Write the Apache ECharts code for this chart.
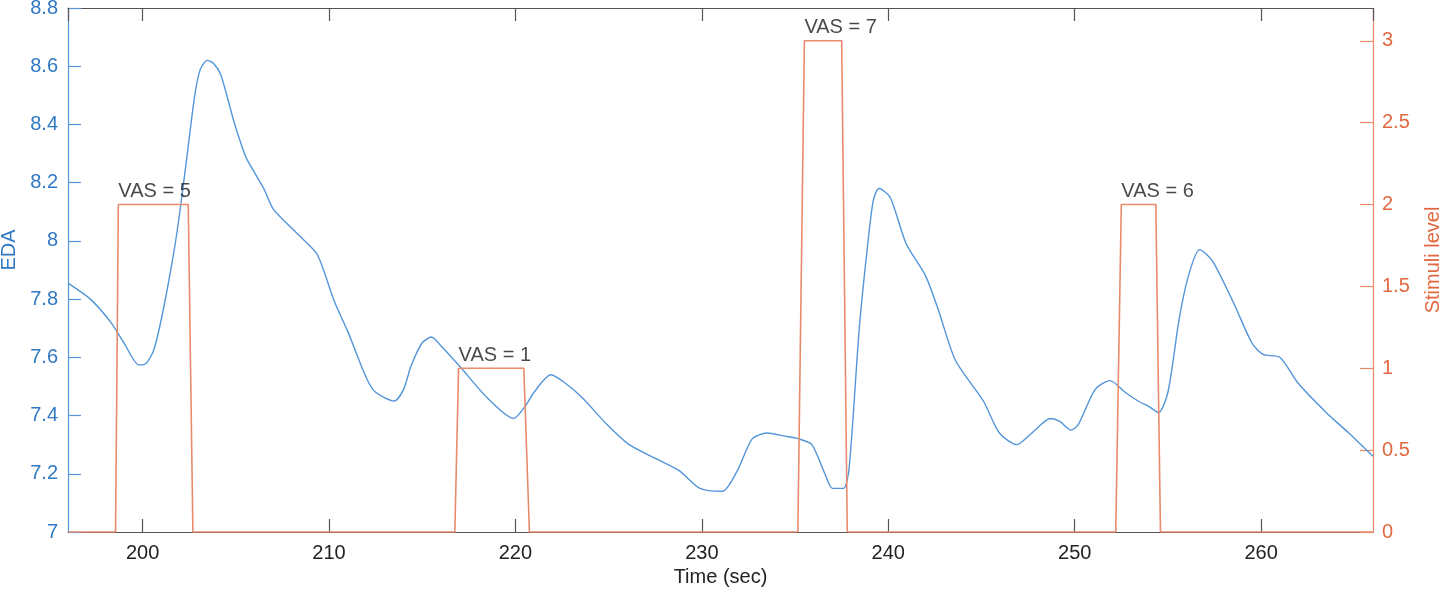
<!DOCTYPE html>
<html>
<head>
<meta charset="utf-8">
<script src="https://cdn.jsdelivr.net/npm/echarts@6/dist/echarts.min.js"></script>
<style>
html,body{margin:0;padding:0;background:#fff;}
#chart{width:1441px;height:595px;}
</style>
</head>
<body>
<div id="chart"></div>
<script>
// EDA signal (time in sec, EDA value)
const edaTime = [196.0,197.2,198.3,199.0,199.8,200.2,200.6,201.1,201.7,202.0,202.4,202.8,203.1,203.47,203.8,204.2,204.9,205.3,205.6,206.5,207.0,207.9,208.7,209.4,210.3,211.0,212.0,212.5,213.5,214.0,214.4,215.0,215.5,216.0,217.0,218.5,219.9,220.5,221.0,221.9,222.7,223.6,224.9,226.1,227.6,228.8,229.9,231.1,231.9,232.7,233.5,234.4,235.2,235.9,236.6,237.0,237.6,237.9,238.45,238.9,239.2,239.5,240.1,240.96,242.0,242.7,243.6,245.1,245.96,246.9,247.7,248.7,249.2,249.8,250.2,251.1,251.9,252.7,253.4,254.0,254.5,255.0,255.6,256.1,256.7,257.4,258.5,259.5,260.1,261.0,262.0,263.5,264.7,266.0];
const edaValue = [7.855,7.80,7.72,7.65,7.574,7.58,7.625,7.76,7.97,8.10,8.30,8.50,8.59,8.62,8.61,8.57,8.41,8.33,8.28,8.18,8.11,8.05,8.00,7.95,7.79,7.69,7.53,7.48,7.45,7.49,7.57,7.65,7.67,7.64,7.57,7.46,7.39,7.43,7.48,7.54,7.51,7.46,7.37,7.30,7.25,7.21,7.15,7.14,7.21,7.32,7.34,7.33,7.32,7.30,7.20,7.15,7.15,7.22,7.705,7.99,8.14,8.18,8.15,7.99,7.88,7.76,7.59,7.45,7.34,7.30,7.34,7.39,7.38,7.35,7.37,7.49,7.52,7.48,7.45,7.43,7.41,7.48,7.73,7.88,7.97,7.93,7.79,7.65,7.61,7.60,7.51,7.41,7.34,7.26];

// Stimulus level trace
const stimTime  = [196,198.55,198.7,202.45,202.7,216.75,216.95,220.45,220.75,235.15,235.5,237.5,237.8,252.2,252.5,254.35,254.6,266];
const stimLevel = [0,0,2,2,0,0,1,1,0,0,3,3,0,0,2,2,0,0];

// VAS annotations
const vasTime  = [198.7,216.95,235.5,252.5];
const vasLevel = [2,1,3,2];
const vasText  = ['VAS = 5','VAS = 1','VAS = 7','VAS = 6'];

// Axis ranges / ticks
const xMin = 196, xMax = 266;
const edaMin = 7, edaMax = 8.8, edaStep = 0.2;
const stimMin = 0, stimMax = 3.2, stimStep = 0.5;

const blueLabel = '#2f78c4', blueLine = '#5395d9';
const orangeLabel = '#e2683f', orangeLine = '#ea8a6c';
const FONT = 'Liberation Sans, Arial, Helvetica, sans-serif';
const FS = 20;

const chart = echarts.init(document.getElementById('chart'));
chart.setOption({
  animation: false,
  backgroundColor: '#ffffff',
  grid: {left: 68, right: 68, top: 8, bottom: 63, containLabel: false, outerBoundsMode: 'none'},
  xAxis: [{
    type: 'value', min: xMin, max: xMax, splitNumber: 7,
    name: 'Time (sec)', nameLocation: 'middle', nameGap: 33,
    nameTextStyle: {color: '#222', fontSize: FS, fontFamily: FONT},
    axisLine: {show: true, onZero: false, lineStyle: {color: '#555', width: 1.2}},
    axisTick: {show: true, inside: true, length: 13, lineStyle: {color: '#555', width: 1.2}},
    axisLabel: {color: '#222', fontSize: FS, fontFamily: FONT, margin: 11, showMinLabel: false, showMaxLabel: false},
    splitLine: {show: false}
  }, {
    type: 'value', min: xMin, max: xMax, splitNumber: 7, position: 'top',
    axisLine: {show: true, onZero: false, lineStyle: {color: '#555', width: 1.2}},
    axisTick: {show: true, inside: true, length: 13, lineStyle: {color: '#555', width: 1.2}},
    axisLabel: {show: false},
    splitLine: {show: false}
  }],
  yAxis: [{
    type: 'value', min: edaMin, max: edaMax, interval: edaStep, position: 'left',
    name: 'EDA', nameLocation: 'middle', nameGap: 46, nameRotate: 90,
    nameTextStyle: {color: blueLabel, fontSize: FS, fontFamily: FONT, padding: [0, 0, 0, 40]},
    axisLine: {show: true, onZero: false, lineStyle: {color: blueLine, width: 1.2}},
    axisTick: {show: true, inside: true, length: 13, lineStyle: {color: blueLine, width: 1.2}},
    axisLabel: {color: blueLabel, fontSize: FS, fontFamily: FONT, margin: 10},
    splitLine: {show: false}
  }, {
    type: 'value', min: stimMin, max: stimMax, interval: stimStep, position: 'right',
    name: 'Stimuli level', nameLocation: 'middle', nameGap: 50, nameRotate: 90,
    nameTextStyle: {color: orangeLabel, fontSize: FS, fontFamily: FONT, padding: [0, 0, 0, 20]},
    axisLine: {show: true, onZero: false, lineStyle: {color: orangeLine, width: 1.2}},
    axisTick: {show: true, inside: true, length: 13, lineStyle: {color: orangeLine, width: 1.2}},
    axisLabel: {color: orangeLabel, fontSize: FS, fontFamily: FONT, margin: 9, showMaxLabel: false},
    splitLine: {show: false}
  }],
  series: [{
    name: 'EDA', type: 'line', xAxisIndex: 0, yAxisIndex: 0,
    data: edaTime.map((t, i) => [t, edaValue[i]]),
    showSymbol: false, smooth: 0.25,
    lineStyle: {color: blueLine, width: 1.4},
    z: 3
  }, {
    name: 'Stimuli', type: 'line', xAxisIndex: 0, yAxisIndex: 1,
    data: stimTime.map((t, i) => [t, stimLevel[i]]),
    showSymbol: false, smooth: false,
    lineStyle: {color: orangeLine, width: 1.6},
    z: 4
  }, {
    name: 'VAS', type: 'scatter', xAxisIndex: 0, yAxisIndex: 1,
    data: vasTime.map((t, i) => ({value: [t, vasLevel[i]], name: vasText[i]})),
    symbolSize: 0,
    label: {
      show: true, formatter: p => p.name,
      position: [0, 0], align: 'left', verticalAlign: 'bottom', offset: [0, -3],
      color: '#1a1a1a', fontSize: FS, fontFamily: FONT
    },
    z: 5
  }]
});
</script>
</body>
</html>
